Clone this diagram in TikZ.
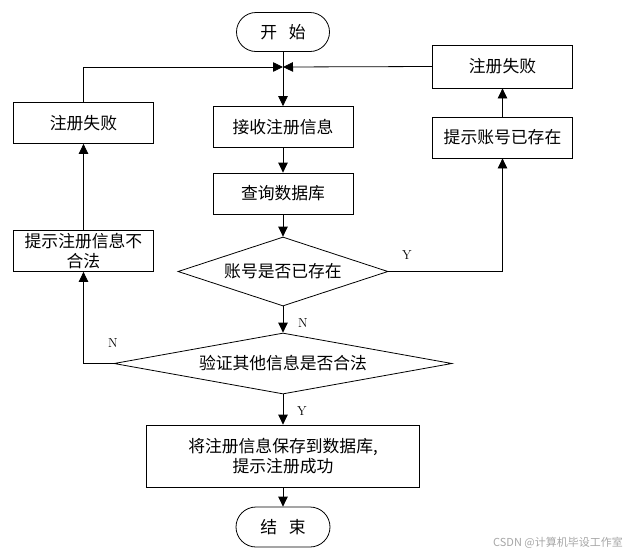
\documentclass[tikz,border=0pt]{standalone}
\usepackage{fontspec}
\newfontfamily\cjk{Noto Sans CJK SC}
\usetikzlibrary{arrows.meta,shapes.geometric,shapes.misc}
\begin{document}
\begin{tikzpicture}[x=1pt,y=1pt,
  every node/.style={font=\cjk\fontsize{16.8}{20}\selectfont},
  box/.style={draw,rectangle,minimum width=140pt,minimum height=41pt,inner sep=2pt,align=center},
  term/.style={draw,rounded rectangle,minimum width=97pt,minimum height=39pt,inner sep=2pt},
  dec/.style={draw,diamond,inner sep=0pt},
  arr/.style={-{Triangle[length=10pt,width=9.5pt]}},
  lbl/.style={font=\rmfamily\fontsize{13}{15}\selectfont,inner sep=0pt},
  line width=0.8pt]
\useasboundingbox (0,0) rectangle (633,-555);
\node[term] (start) at (283,-32) {开\hspace{0.7em}始};
\node[box] (recv) at (283,-127) {接收注册信息};
\node[box] (query) at (283,-193.5) {查询数据库};
\node[dec,aspect=3.04,minimum width=210pt,minimum height=69pt] (d1) at (283,-271.5) {账号是否已存在};
\node[dec,aspect=5.54,minimum width=338pt,minimum height=61pt] (d2) at (283,-363.5) {验证其他信息是否合法};
\node[box,minimum width=273pt,minimum height=62pt] (save) at (283,-456) {将注册信息保存到数据库,\\提示注册成功};
\node[term,minimum width=98pt,minimum height=40pt] (end) at (283,-527) {结\hspace{0.7em}束};
\node[box] (lfail) at (83.5,-123) {注册失败};
\node[box,inner sep=1pt] (lmsg) at (83.5,-251) {提示注册信息不\\合法};
\node[box,minimum height=43pt] (rfail) at (502.5,-66.5) {注册失败};
\node[box] (rmsg) at (502.5,-137.5) {提示账号已存在};
\coordinate (m) at (283,-67);
\draw[arr] (start.south) -- (recv.north);
\draw[arr] (recv.south) -- (query.north);
\draw[arr] (query.south) -- (d1.north);
\draw[arr] (d1.south) -- (d2.north);
\draw[arr] (d2.south) -- (save.north);
\draw[arr] (save.south) -- (end.north);
\draw[arr] (d1.east) -| (rmsg.south);
\draw[arr] (rmsg.north) -- (rfail.south);
\draw[arr] (rfail.west) -- (m);
\draw[arr] (lfail.north) |- (m);
\draw[arr] (lmsg.north) -- (lfail.south);
\draw[arr] (d2.west) -| (lmsg.south);
\node[lbl] (ly1) at (407,-255) {Y};
\node[lbl] (ln1) at (303,-323) {N};
\node[lbl] (ln2) at (113,-343) {N};
\node[lbl] (ly2) at (302,-411) {Y};
\node[font=\cjk\fontsize{11}{13}\selectfont,text=black!35] (wm) at (558,-543) {CSDN @计算机毕设工作室};
\end{tikzpicture}
\end{document}
